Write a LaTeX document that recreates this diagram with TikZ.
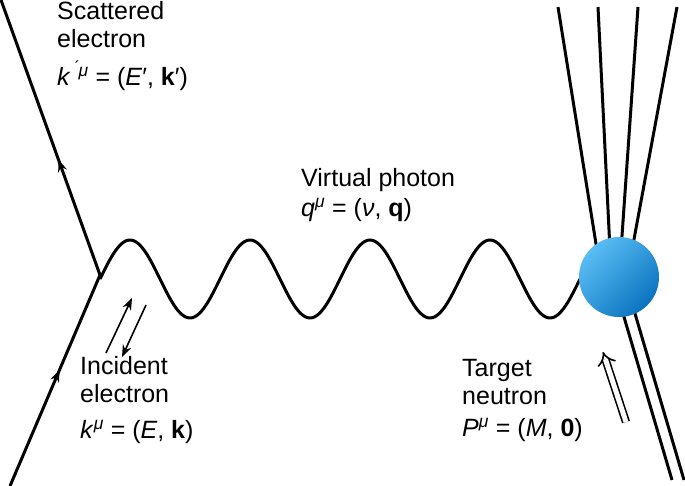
\documentclass[tikz,border=0pt]{standalone}
\usepackage{fontspec}
\setmainfont{Liberation Sans}
\usetikzlibrary{arrows.meta,decorations.markings}
\definecolor{blobA}{RGB}{90,190,245}
\definecolor{blobB}{RGB}{10,115,190}
\tikzset{
 ferm/.style={line width=3pt,postaction={decorate},decoration={markings,mark=at position #1 with {\arrow{Stealth[length=12pt,width=9pt]}}}},
 leg/.style={line width=3pt},
 lbl/.style={anchor=north west,align=left,inner sep=0pt,font=\fontsize{25}{28}\selectfont},
 small/.style={line width=1.6pt,-{Stealth[length=12pt,width=9pt]}}
}
\begin{document}
\begin{tikzpicture}[x=1pt,y=-1pt]
\useasboundingbox (0,0) rectangle (685,486);
\coordinate (v) at (100,275);
\coordinate (ein) at (10,486);
\coordinate (eout) at (1,0);
\draw[ferm=0.55] (ein) -- (v);
\draw[ferm=0.42] (v) -- (eout);
\draw[leg,domain=100:580,samples=200,smooth] plot (\x,{279-39*sin(3*(\x-100))});
\coordinate (bc) at (619,277);
\foreach \a/\b in {558/597,598/610,638/621,677/632}
  \draw[leg] (\a,7) -- (\b,250);
\draw[leg] (672,480) -- (619,300);
\draw[leg] (684,480) -- (631,300);
\shade[left color=blobA,right color=blobB,shading angle=45] (bc) circle (40);
\node[circle,minimum size=80pt,inner sep=0pt] (blob) at (bc) {};
\coordinate (a1) at (106,353); \coordinate (a2) at (132,298);
\coordinate (b1) at (146,305); \coordinate (b2) at (122,357);
\draw[small] (a1) -- (a2);
\draw[small] (b1) -- (b2);
\coordinate (t1) at (626,422); \coordinate (t2) at (603,352);
\draw[line width=1.6pt,double distance=5pt,-{Implies[length=9pt]}] (t1) -- (t2);
\node[lbl] (ls) at (57,1) {Scattered\\electron\\[10pt]\textit{k}\textsuperscript{\textit{\,\'{}μ}} = (\textit{E}′, \textbf{k}′)};
\node[lbl] (lv) at (301,168) {Virtual photon\\[2pt]\textit{q}\textsuperscript{\textit{μ}} = (\textit{ν}, \textbf{q})};
\node[lbl] (li) at (80,356) {Incident\\electron\\[8pt]\textit{k}\textsuperscript{\textit{μ}} = (\textit{E}, \textbf{k})};
\node[lbl] (lt) at (462,359) {Target\\neutron\\[4pt]\textit{P}\textsuperscript{\textit{μ}} = (\textit{M}, \textbf{0})};
\end{tikzpicture}
\end{document}
